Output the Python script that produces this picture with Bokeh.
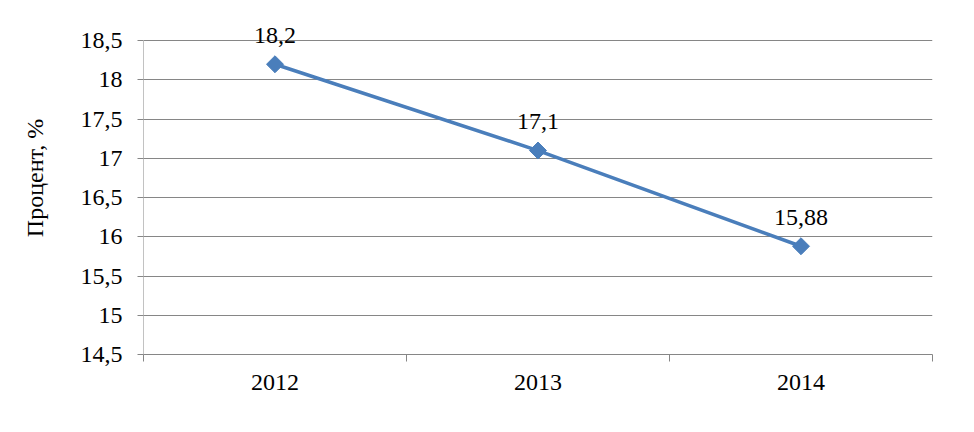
from bokeh.plotting import figure
from bokeh.models import FixedTicker, Range1d, ColumnDataSource, Label
from bokeh.embed import file_html
from bokeh.resources import INLINE
import math

years = ["2012", "2013", "2014"]
values = [18.2, 17.1, 15.88]
labels = ["18,2", "17,1", "15,88"]
y_ticks = [14.5, 15, 15.5, 16, 16.5, 17, 17.5, 18, 18.5]
y_tick_labels = ["14,5", "15", "15,5", "16", "16,5", "17", "17,5", "18", "18,5"]
y_min, y_max = 14.5, 18.5

FONT = "Times"
FS = "24px"
GRAY = "#868686"
BLUE = "#4A7EBB"

xs = [i + 0.5 for i in range(len(years))]
src = ColumnDataSource(dict(x=xs, y=values, lab=labels))

# extra headroom above the top gridline so that the top data label is not clipped
p = figure(width=958, height=416, output_backend="svg", toolbar_location=None,
           x_range=Range1d(0, len(years)), y_range=Range1d(y_min, y_max + 0.5),
           min_border_left=143, min_border_right=26, min_border_top=1, min_border_bottom=62)
p.outline_line_color = None
p.background_fill_color = "white"
p.border_fill_color = "white"

# y axis line only up to the top tick
p.segment(x0=[0], y0=[y_min], x1=[0], y1=[y_max], line_color=GRAY, line_width=1)

p.line("x", "y", source=src, line_color=BLUE, line_width=3.5)
p.scatter("x", "y", source=src, marker="square", size=12, angle=math.pi / 4,
          fill_color=BLUE, line_color=BLUE)

for x, y, t in zip(xs, values, labels):
    p.add_layout(Label(x=x, y=y, text=t, y_offset=29,
                       text_align="center", text_baseline="middle",
                       text_font=FONT, text_font_size=FS, text_color="black"))

# x axis
p.xaxis.ticker = FixedTicker(ticks=xs, minor_ticks=list(range(len(years) + 1)))
p.xaxis.major_label_overrides = {x: y for x, y in zip(xs, years)}
p.xaxis.major_tick_line_color = None
p.xaxis.minor_tick_line_color = GRAY
p.xaxis.minor_tick_out = 7
p.xaxis.minor_tick_in = 0
p.xaxis.axis_line_color = GRAY
p.xaxis.major_label_text_font = FONT
p.xaxis.major_label_text_font_size = FS
p.xaxis.major_label_text_color = "black"
p.xaxis.major_label_standoff = 13
p.xgrid.grid_line_color = None

# y axis
p.yaxis.ticker = FixedTicker(ticks=y_ticks)
p.yaxis.major_label_overrides = {t: l for t, l in zip(y_ticks, y_tick_labels)}
p.yaxis.axis_line_color = None
p.yaxis.major_tick_line_color = GRAY
p.yaxis.major_tick_out = 6
p.yaxis.major_tick_in = 0
p.yaxis.minor_tick_line_color = None
p.yaxis.major_label_text_font = FONT
p.yaxis.major_label_text_font_size = FS
p.yaxis.major_label_text_color = "black"
p.yaxis.major_label_standoff = 15
p.yaxis.axis_label = "Процент, %"
p.yaxis.axis_label_text_font = FONT
p.yaxis.axis_label_text_font_size = FS
p.yaxis.axis_label_text_font_style = "normal"
p.yaxis.axis_label_text_color = "black"
p.yaxis.axis_label_standoff = 30
p.ygrid.grid_line_color = GRAY
p.ygrid.grid_line_width = 1

open("out.html", "w").write(file_html(p, INLINE))
